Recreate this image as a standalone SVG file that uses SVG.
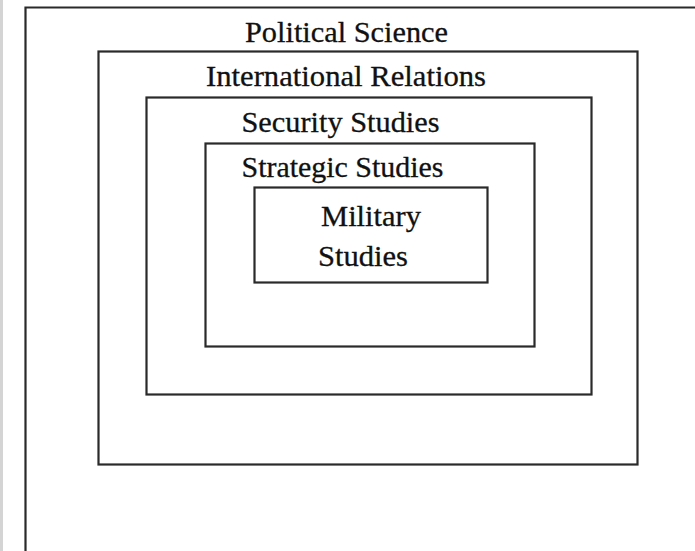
<svg xmlns="http://www.w3.org/2000/svg" width="695" height="551" viewBox="0 0 695 551">
<style>
.box{fill:none;stroke:#2a2a2a;stroke-width:2.2}
.lbl{font-family:"Liberation Serif","Times New Roman",serif;font-size:30px;fill:#111;stroke:#111;stroke-width:0.3}
</style>
<rect x="0" y="0" width="695" height="551" fill="#ffffff"/>
<rect x="0" y="0" width="3" height="551" fill="#d4d4d4"/>
<g id="political-science">
<path class="box" d="M25.5,560 V7.5 H700"/>
<text class="lbl" x="245" y="42" textLength="203" lengthAdjust="spacingAndGlyphs">Political Science</text>
</g>
<g id="international-relations">
<rect class="box" x="98.5" y="51.5" width="539" height="413"/>
<text class="lbl" x="206" y="86" textLength="280" lengthAdjust="spacingAndGlyphs">International Relations</text>
</g>
<g id="security-studies">
<rect class="box" x="146.5" y="97.5" width="445" height="297"/>
<text class="lbl" x="241.5" y="132" textLength="198" lengthAdjust="spacingAndGlyphs">Security Studies</text>
</g>
<g id="strategic-studies">
<rect class="box" x="205.5" y="143.5" width="329" height="203"/>
<text class="lbl" x="241.5" y="177" textLength="202" lengthAdjust="spacingAndGlyphs">Strategic Studies</text>
</g>
<g id="military-studies">
<rect class="box" x="254.5" y="187.5" width="233" height="95"/>
<text class="lbl" x="321" y="226" textLength="100" lengthAdjust="spacingAndGlyphs">Military</text>
<text class="lbl" x="318" y="266" textLength="90" lengthAdjust="spacingAndGlyphs">Studies</text>
</g>
<g id="connectors"></g>
</svg>
